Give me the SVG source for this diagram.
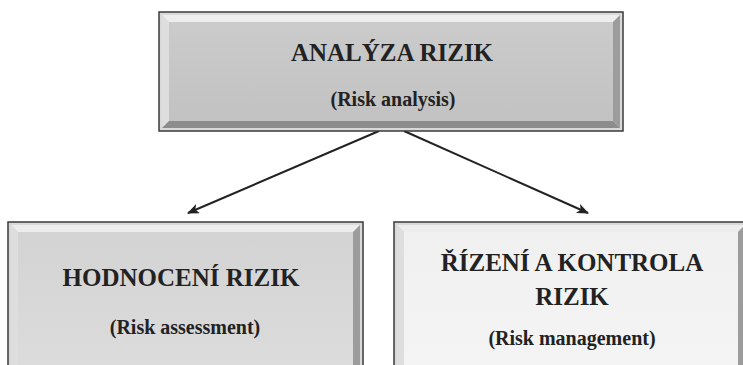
<svg xmlns="http://www.w3.org/2000/svg" width="743" height="365" viewBox="0 0 743 365">
<defs>
<style>
.outer{stroke:#3a3a3a;stroke-width:1.5;fill:#d9d9d9}
.hl{fill:#ededed}
.hl2{fill:#dedede}
.sh{fill:#9c9c9c}
.sh2{fill:#8c8c8c}
.t1{font-family:"Liberation Serif","Times New Roman",serif;font-weight:bold;font-size:25px;fill:#222;text-anchor:middle}
.t2{font-family:"Liberation Serif","Times New Roman",serif;font-weight:bold;font-size:20px;fill:#222;text-anchor:middle}
.conn{stroke:#222;stroke-width:2;fill:none}
</style>
<linearGradient id="gTop" x1="0" y1="0" x2="0" y2="1">
<stop offset="0" stop-color="#cbcbcb"/><stop offset="1" stop-color="#c2c2c2"/>
</linearGradient>
<linearGradient id="gLeft" x1="0" y1="0" x2="0" y2="1">
<stop offset="0" stop-color="#d3d3d3"/><stop offset="1" stop-color="#dcdcdc"/>
</linearGradient>
<linearGradient id="gRight" x1="0" y1="0" x2="0" y2="1">
<stop offset="0" stop-color="#f0f0f0"/><stop offset="1" stop-color="#f4f4f4"/>
</linearGradient>
<marker id="arr" viewBox="0 0 12 10" refX="11" refY="5" markerWidth="12" markerHeight="10" markerUnits="userSpaceOnUse" orient="auto">
<path d="M0,0 L12,5 L0,10 L3,5 Z" fill="#222"/>
</marker>
</defs>

<g id="connectors">
<line class="conn" x1="379" y1="131" x2="188" y2="213" marker-end="url(#arr)"/>
<line class="conn" x1="404" y1="131" x2="588" y2="213" marker-end="url(#arr)"/>
</g>

<g id="node-analyza">
<rect class="outer" x="159" y="12" width="464" height="119"/>
<polygon class="hl" points="162,15 620,15 613,22 169,22"/>
<polygon class="hl2" points="162,15 169,22 169,121 162,128"/>
<polygon class="sh" points="620,15 620,128 613,121 613,22"/>
<polygon class="sh2" points="162,128 169,121 613,121 620,128"/>
<rect x="169" y="22" width="444" height="99" fill="url(#gTop)"/>
<text class="t1" x="392" y="61">ANALÝZA RIZIK</text>
<text class="t2" x="393" y="106">(Risk analysis)</text>
</g>

<g id="node-hodnoceni">
<rect class="outer" x="8" y="222" width="355" height="160"/>
<polygon class="hl" points="11,225 360,225 353,232 18,232"/>
<polygon class="hl2" points="11,225 18,232 18,372 11,379"/>
<polygon class="sh" points="360,225 360,379 353,372 353,232"/>
<rect x="18" y="232" width="335" height="140" fill="url(#gLeft)"/>
<text class="t1" x="181" y="286">HODNOCENÍ RIZIK</text>
<text class="t2" x="185" y="334">(Risk assessment)</text>
</g>

<g id="node-rizeni">
<rect class="outer" x="394" y="222" width="354" height="160"/>
<polygon class="hl" points="397,225 745,225 738,232 404,232"/>
<polygon class="hl2" points="397,225 404,232 404,372 397,379"/>
<polygon class="sh" points="745,225 745,379 738,372 738,232"/>
<rect x="404" y="232" width="334" height="140" fill="url(#gRight)"/>
<text class="t1" x="572" y="271">ŘÍZENÍ A KONTROLA</text>
<text class="t1" x="572" y="305">RIZIK</text>
<text class="t2" x="572" y="345">(Risk management)</text>
</g>
</svg>
